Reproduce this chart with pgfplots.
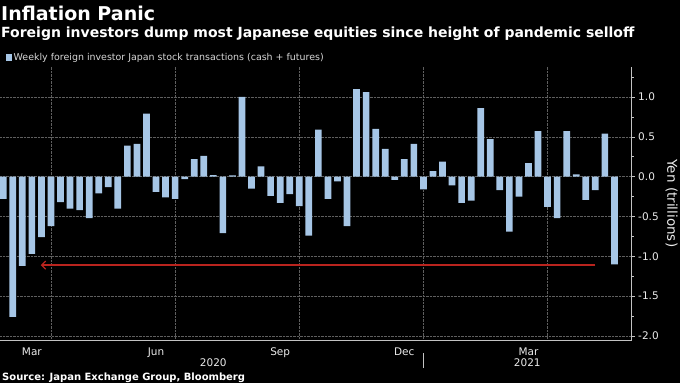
\documentclass[border=0pt]{standalone}
\usepackage{fontspec}
\setmainfont{DejaVu Sans}
\usepackage{pgfplots}
\pgfplotsset{compat=1.18}
\usetikzlibrary{arrows.meta}
\definecolor{barblue}{RGB}{166,198,230}
\definecolor{gridgray}{RGB}{95,95,95}
\definecolor{axisgray}{RGB}{195,195,195}
\definecolor{txt}{RGB}{235,235,235}
\definecolor{legtxt}{RGB}{215,215,215}
\definecolor{arrowred}{RGB}{185,36,30}
\begin{document}
\begin{tikzpicture}
\fill[black] (0pt,0pt) rectangle (680pt,383pt);
\path[use as bounding box] (0pt,0pt) rectangle (680pt,383pt);
\node[anchor=base west, inner sep=0pt, text=white, font=\bfseries\fontsize{19}{22}\selectfont] at (1pt,362pt) {Inflation Panic};
\node[anchor=base west, inner sep=0pt, text=white, font=\bfseries\fontsize{14}{16}\selectfont] at (1pt,345pt) {Foreign investors dump most Japanese equities since height of pandemic selloff};
\node[anchor=base west, inner sep=0pt, text=white, font=\bfseries\fontsize{10}{12}\selectfont] at (2pt,3pt) {Source: Japan Exchange Group, Bloomberg};
\begin{axis}[
  at={(0pt,43pt)}, anchor=south west,
  scale only axis, width=631.7pt, height=273.3pt,
  xmin=-0.335, xmax=65.81, ymin=-2.05, ymax=1.38,
  axis x line*=bottom, axis y line*=right,
  axis line style={-, draw=axisgray, line width=0.7pt},
  tick align=outside,
  major tick length=3pt, minor tick length=2pt,
  tick style={axisgray, line width=0.6pt},
  ytick={-2,-1.5,-1,-0.5,0,0.5,1},
  yticklabels={-2.0,-1.5,-1.0,-0.5,0.0,0.5,1.0},
  minor ytick={-1.75,-1.25,-0.75,-0.25,0.25,0.75,1.25},
  ymajorgrids,
  major grid style={gridgray, densely dotted, line width=0.6pt},
  xtick={3,16,29,42,55},
  xticklabels={Mar,Jun,Sep,Dec,Mar},
  xtick style={draw=none},
  minor xtick={5,18,31,44,57},
  xminorgrids,
  minor grid style={gridgray, densely dotted, line width=0.6pt},
  extra x ticks={1,9,14,23,27,36,40,49,53,62},
  extra x tick labels={},
  extra x tick style={grid=none, major tick length=3pt, tick style={draw=axisgray}},
  ticklabel style={font=\fontsize{10.5}{12}\selectfont, text=txt},
  xticklabel style={yshift=-1pt},
  ylabel={Yen (trillions)},
  every axis y label/.style={at={(axis description cs:1.0535,0.5)}, rotate=-90, anchor=south, inner sep=0pt, font=\fontsize{13.5}{16}\selectfont, text=txt},
  clip=false,
  legend style={at={(axis description cs:0,1)}, anchor=south west, yshift=3pt, xshift=6pt, draw=none, fill=none, inner sep=0pt, font=\fontsize{9.45}{11}\selectfont, text=legtxt, nodes={inner sep=1.5pt}},
  legend image code/.code={\fill[barblue] (0pt,-3.3pt) rectangle (6pt,3.3pt);},
]
\addplot[ybar, bar width=6.7pt, fill=barblue, draw=none] coordinates {
(0,-0.28) (1,-1.76) (2,-1.12) (3,-0.97) (4,-0.76) (5,-0.62) (6,-0.32) (7,-0.40)
(8,-0.42) (9,-0.52) (10,-0.21) (11,-0.13) (12,-0.40) (13,0.39) (14,0.41) (15,0.79)
(16,-0.19) (17,-0.26) (18,-0.28) (19,-0.03) (20,0.22) (21,0.26) (22,0.02) (23,-0.71)
(24,0.015) (25,1.00) (26,-0.15) (27,0.13) (28,-0.24) (29,-0.33) (30,-0.22) (31,-0.37)
(32,-0.74) (33,0.59) (34,-0.28) (35,-0.06) (36,-0.62) (37,1.10) (38,1.06) (39,0.60)
(40,0.35) (41,-0.04) (42,0.22) (43,0.41) (44,-0.16) (45,0.07) (46,0.19) (47,-0.11)
(48,-0.33) (49,-0.30) (50,0.86) (51,0.47) (52,-0.17) (53,-0.69) (54,-0.25) (55,0.17)
(56,0.57) (57,-0.38) (58,-0.52) (59,0.57) (60,0.03) (61,-0.29) (62,-0.17) (63,0.54)
(64,-1.10)
};
\addlegendentry{Weekly foreign investor Japan stock transactions (cash + futures)}
\addplot[draw=arrowred, color=arrowred, line width=1.3pt, mark=none, -{Straight Barb[length=4pt,width=8pt]}, forget plot] coordinates {(62,-1.11) (3.93,-1.11)};
\end{axis}
\node[anchor=base, inner sep=0pt, text=txt, font=\fontsize{10.5}{12}\selectfont] at (213.3pt,16.3pt) {2020};
\node[anchor=base, inner sep=0pt, text=txt, font=\fontsize{10.5}{12}\selectfont] at (527.3pt,16.3pt) {2021};
\draw[axisgray, line width=0.6pt] (423.4pt,15pt) -- (423.4pt,30pt);
\end{tikzpicture}
\end{document}
